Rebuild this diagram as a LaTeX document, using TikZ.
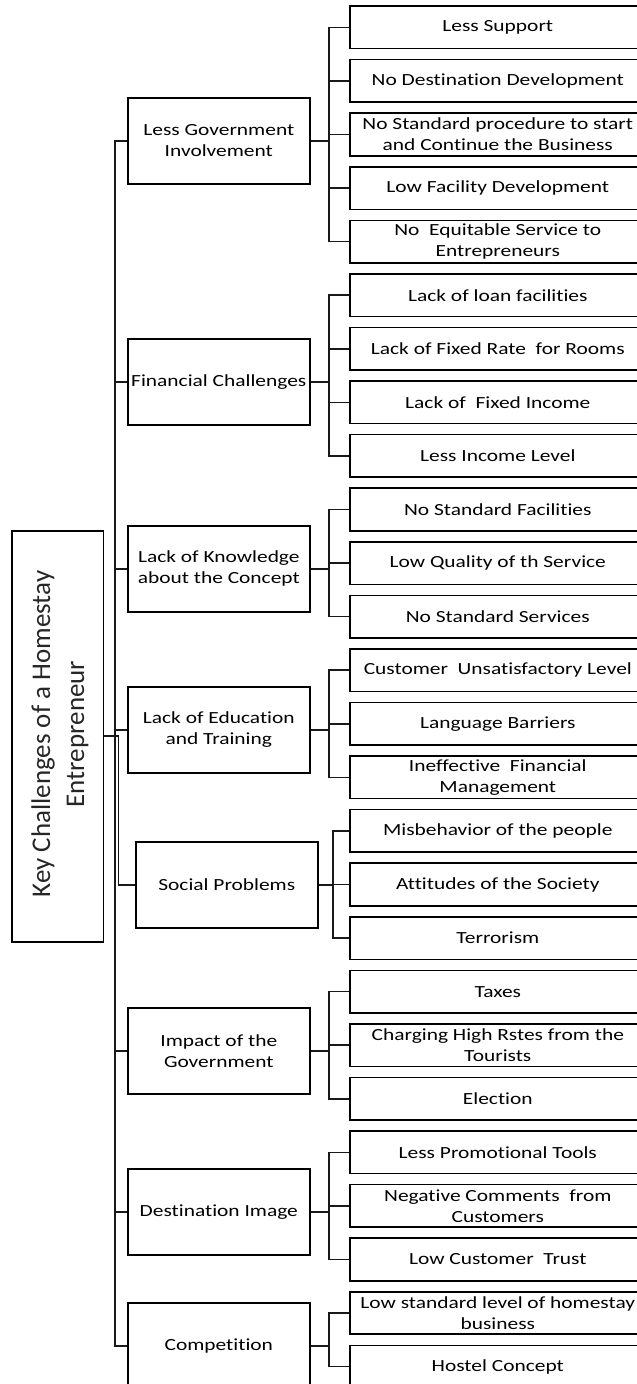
\documentclass[tikz,border=0pt]{standalone}
\usepackage{fontspec}
\setmainfont{Carlito}[FakeStretch=1.26, Ligatures=NoCommon]
\newfontfamily\rootfont{Carlito}[Ligatures=NoCommon]
\begin{document}
\begin{tikzpicture}[x=1pt,y=-1pt,
  box/.style={draw=black, line width=1.6pt, inner sep=0pt, align=center,
    font=\fontsize{17}{21}\selectfont, text=black},
  leaf/.style={box, minimum width=296pt, minimum height=42.5pt, anchor=north west},
  cat/.style={box, minimum width=182pt, minimum height=86pt, anchor=north west},
  wire/.style={line width=1.6pt, draw=black!90, line join=miter}]
\useasboundingbox (0,0) rectangle (637,1384);
\clip (0,0) rectangle (637,1384);

% root
\node[draw=black, line width=1.6pt, inner sep=0pt, minimum width=91.6pt, minimum height=411pt] (root) at (57.5,736.2) {};
\node[rotate=90, align=center, inner sep=0pt, text=black!85,
  font=\rootfont\fontsize{27}{34}\selectfont] (rootlabel) at (60,734) {Key Challenges of a Homestay\\Entrepreneur};

% categories
\node[cat] (c1) at (127,97) {Less Government\\Involvement};
\node[cat] (c2) at (127,338) {Financial Challenges};
\node[cat] (c3) at (127,525) {Lack of Knowledge\\about the Concept};
\node[cat] (c4) at (127,686) {Lack of Education\\and Training};
\node[cat] (c5) at (135,841) {Social Problems};
\node[cat] (c6) at (127,1007) {Impact of the\\Government};
\node[cat] (c7) at (127,1168) {Destination Image};
\node[cat] (c8) at (127,1302) {Competition};

% leaves
\foreach \i/\t in {
  0/{Less Support},
  1/{No Destination Development},
  2/{No Standard procedure to start\\and Continue the Business},
  3/{Low Facility Development},
  4/{No~ Equitable Service to\\Entrepreneurs},
  5/{Lack of loan facilities},
  6/{Lack of Fixed Rate~ for Rooms},
  7/{Lack of~ Fixed Income},
  8/{Less Income Level},
  9/{No Standard Facilities},
  10/{Low Quality of th Service},
  11/{No Standard Services},
  12/{Customer~ Unsatisfactory Level},
  13/{Language Barriers},
  14/{Ineffective~ Financial\\Management},
  15/{Misbehavior of the people},
  16/{Attitudes of the Society},
  17/{Terrorism},
  18/{Taxes},
  19/{Charging High Rstes from the\\Tourists},
  20/{Election},
  21/{Less Promotional Tools},
  22/{Negative Comments~ from\\Customers},
  23/{Low Customer~ Trust},
  24/{Low standard level of homestay\\business},
  25/{Hostel Concept}}
  \node[leaf] (l\i) at (349,{5.3+53.57*\i}) {\t};

% vertical guide coordinates
\coordinate (va) at (329,0);
\coordinate (vb) at (333,0);
\coordinate (tr) at (115,0);
\coordinate (sr) at (118.5,0);

% category -> leaves
\draw[wire] (l0.west) -| (va |- l4.west) -- (l4.west);
\foreach \m in {1,2,3} \draw[wire] (l\m.west) -- (va |- l\m.west);
\draw[wire] (c1.east) -- (va |- c1.east);

\draw[wire] (l5.west) -| (va |- l8.west) -- (l8.west);
\foreach \m in {6,7} \draw[wire] (l\m.west) -- (va |- l\m.west);
\draw[wire] (c2.east) -- (va |- c2.east);

\draw[wire] (l9.west) -| (va |- l11.west) -- (l11.west);
\draw[wire] (l10.west) -- (va |- l10.west);
\draw[wire] (c3.east) -- (va |- c3.east);

\draw[wire] (l12.west) -| (va |- l14.west) -- (l14.west);
\draw[wire] (l13.west) -- (va |- l13.west);
\draw[wire] (c4.east) -- (va |- c4.east);

\draw[wire] (l15.west) -| (vb |- l17.west) -- (l17.west);
\draw[wire] (l16.west) -- (vb |- l16.west);
\draw[wire] (c5.east) -- (vb |- c5.east);

\draw[wire] (l18.west) -| (va |- l20.west) -- (l20.west);
\draw[wire] (l19.west) -- (va |- l19.west);
\draw[wire] (c6.east) -- (va |- c6.east);

\draw[wire] (l21.west) -| (va |- l23.west) -- (l23.west);
\draw[wire] (l22.west) -- (va |- l22.west);
\draw[wire] (c7.east) -- (va |- c7.east);

\draw[wire] (l24.west) -| (va |- l25.west) -- (l25.west);
\draw[wire] (c8.east) -- (va |- c8.east);

% trunk
\draw[wire] (c1.west) -| (tr |- c8.west) -- (c8.west);
\foreach \c in {c2,c3,c4,c6,c7} \draw[wire] (\c.west) -- (tr |- \c.west);
\draw[wire] (root.east) -- (sr |- root.east) |- (c5.west);
\end{tikzpicture}
\end{document}
